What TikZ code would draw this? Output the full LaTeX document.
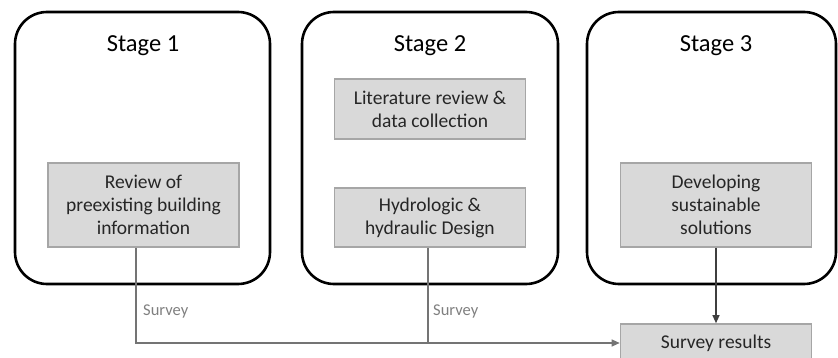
\documentclass[tikz,border=0pt]{standalone}
\usepackage{fontspec}
\setmainfont{Carlito}
\usetikzlibrary{arrows.meta,calc}
\definecolor{boxfill}{HTML}{D9D9D9}
\definecolor{boxline}{HTML}{A6A6A6}
\definecolor{txt}{HTML}{262626}
\definecolor{lbl}{HTML}{7F7F7F}
\definecolor{conn}{HTML}{747474}
\definecolor{darkconn}{HTML}{3F3F3F}
\tikzset{
  stagebox/.style={draw=black, line width=2.6pt, rounded corners=32pt},
  stitle/.style={anchor=base, font=\fontsize{24.5}{28}\selectfont, text=black},
  task/.style={draw=boxline, fill=boxfill, line width=1.6pt, minimum width=191pt,
    align=center, text=txt, inner sep=0pt, font=\fontsize{19.5}{23}\selectfont},
  surv/.style={draw=conn, line width=1.2pt},
  arr/.style={draw=conn, line width=1.2pt, -{Triangle[length=8pt,width=7pt]}},
  darr/.style={draw=darkconn, line width=1.1pt, -{Triangle[length=8pt,width=7pt]}},
  slabel/.style={anchor=west, text=lbl, font=\fontsize{16.5}{19}\selectfont, inner sep=0pt}
}
\begin{document}
\begin{tikzpicture}[x=1pt,y=-1pt]
\useasboundingbox (0,0) rectangle (838,358);
\clip (0,0) rectangle (838,358);
% stage containers
\draw[stagebox] (15,12) rectangle (270,284);
\draw[stagebox] (302,12) rectangle (558,284);
\draw[stagebox] (587,12) rectangle (836,284);
\node[stitle] (t1) at (143,52) {Stage 1};
\node[stitle] (t2) at (430,52) {Stage 2};
\node[stitle] (t3) at (716,52) {Stage 3};
% tasks
\node[task, minimum height=84pt] (b1) at (143.5,205) {Review of\\preexisting building\\information};
\node[task, minimum height=60pt] (b2a) at (430,109) {Literature review \&\\data collection};
\node[task, minimum height=59pt] (b2b) at (430,217.5) {Hydrologic \&\\hydraulic Design};
\node[task, minimum height=84pt] (b3) at (716,205) {Developing\\sustainable\\solutions};
\node[task, minimum height=38pt] (sr) at (716,343) {Survey results};
% connectors
\coordinate (j2) at (428,343);
\draw[surv] ([xshift=-7.5pt]b1.south) |- (j2);
\draw[arr] (j2) -- (sr.west);
\draw[surv] ([xshift=-2pt]b2b.south) -- (j2);
\draw[darr] (b3.south) -- (sr.north);
% labels
\node[slabel] (l1) at (143,311) {Survey};
\node[slabel] (l2) at (433,311) {Survey};
\end{tikzpicture}
\end{document}
